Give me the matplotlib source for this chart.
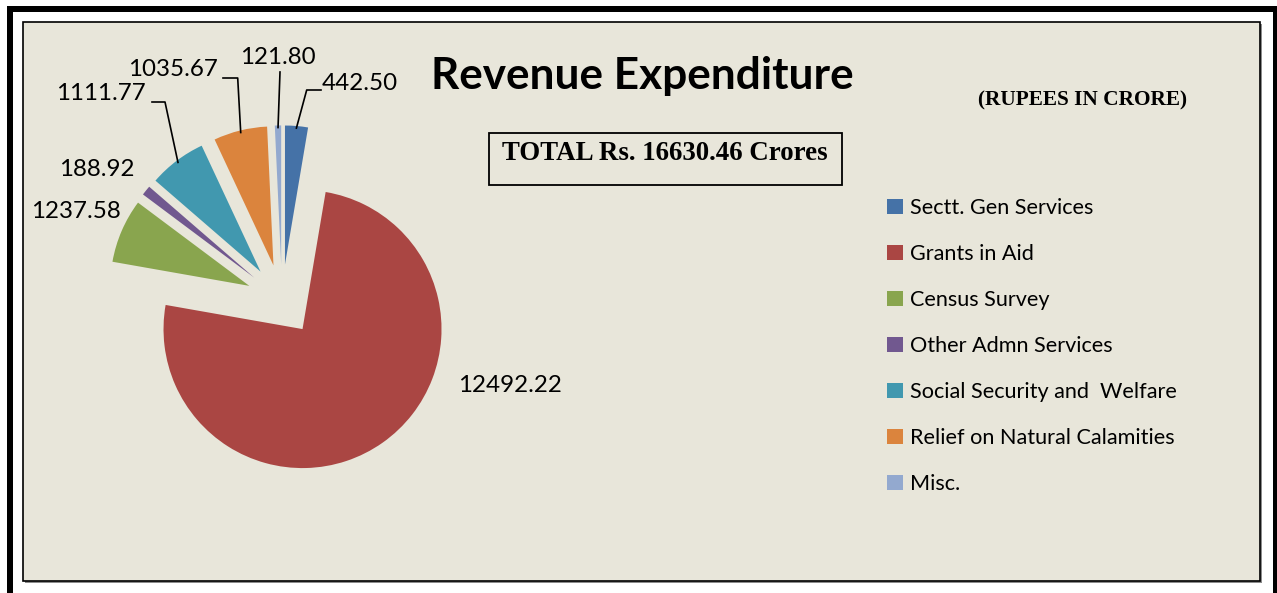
import math

import matplotlib.pyplot as plt
from matplotlib.patches import Rectangle

# Revenue expenditure by head (Rupees in crore)
categories = [
    "Sectt. Gen Services",
    "Grants in Aid",
    "Census Survey",
    "Other Admn Services",
    "Social Security and  Welfare",
    "Relief on Natural Calamities",
    "Misc.",
]
values = [442.50, 12492.22, 1237.58, 188.92, 1111.77, 1035.67, 121.80]
value_labels = ["442.50", "12492.22", "1237.58", "188.92", "1111.77", "1035.67", "121.80"]
colors = ["#4572A7", "#AA4643", "#89A54E", "#71588F", "#4198AF", "#DB843D", "#93A9CF"]

W, H = 1277, 593
BG = "#E8E6DA"
LABEL_FONT = ["Lato", "DejaVu Sans"]
SERIF = ["Liberation Serif", "DejaVu Serif"]

# Pie geometry in pixels (top-left origin)
PIE_CX, PIE_CY, PIE_R = 282, 300, 139
EXPLODE = 0.256


def fx(x):
    return x / W


def fy(y):
    return 1 - y / H


fig = plt.figure(figsize=(W / 100, H / 100), dpi=100)
fig.patch.set_facecolor("white")

# Outer heavy frame (open at the bottom) and inner plot-area box with shadow
for x0, y0, x1, y1 in [(7, 6, 1277, 12), (7, 6, 13, 593), (1273, 6, 1277, 593)]:
    fig.add_artist(Rectangle((fx(x0), fy(y1)), fx(x1 - x0), (y1 - y0) / H,
                             transform=fig.transFigure, facecolor="black", edgecolor="none",
                             zorder=-10))
fig.add_artist(Rectangle((fx(25), fy(583)), fx(1237), 559 / H, transform=fig.transFigure,
                         facecolor="#8c8c8c", edgecolor="none", zorder=-9))
fig.add_artist(Rectangle((fx(23), fy(581)), fx(1237), 559 / H, transform=fig.transFigure,
                         facecolor=BG, edgecolor="black", linewidth=1.2, zorder=-8))

# Axes in units of the pie radius, centred on the pie
ax = fig.add_axes([0, 0, 1, 1])
ax.patch.set_alpha(0)

wedges, _ = ax.pie(
    values,
    colors=colors,
    startangle=90,
    counterclock=False,
    explode=[EXPLODE] * len(values),
    radius=1.0,
    center=(0, 0),
    frame=True,
    wedgeprops={"linewidth": 0},
)
ax.set_xlim(-PIE_CX / PIE_R, (W - PIE_CX) / PIE_R)
ax.set_ylim(-(H - PIE_CY) / PIE_R, PIE_CY / PIE_R)
ax.set_aspect("equal")
ax.axis("off")


def to_ax(x, y):
    return (x - PIE_CX) / PIE_R, (PIE_CY - y) / PIE_R


def edge_point(w, r=0.985):
    mid = math.radians((w.theta1 + w.theta2) / 2)
    cx, cy = w.center
    return cx + r * w.r * math.cos(mid), cy + r * w.r * math.sin(mid)


# Label layout: text position, alignment, and leader-line bends (pixels)
label_layout = [
    ((322, 84), "left", [(306.7, 90), (321, 90)]),
    ((510, 386), "center", None),
    ((121, 212), "right", None),
    ((135, 169.5), "right", None),
    ((146, 93.5), "right", [(165, 102), (152, 102)]),
    ((218, 70), "right", [(237.7, 78), (223, 78)]),
    ((278, 57.5), "center", [(280, 72)]),
]

for w, text, (pos, ha, bends) in zip(wedges, value_labels, label_layout):
    tx, ty = to_ax(*pos)
    ax.text(tx, ty, text, ha=ha, va="center", fontsize=17.4, family=LABEL_FONT, color="black")
    if bends:
        sx, sy = edge_point(w)
        pts = [(sx, sy)] + [to_ax(*p) for p in bends]
        ax.plot([p[0] for p in pts], [p[1] for p in pts], color="black", linewidth=1.2)

# Titles
fig.text(fx(642), fy(76), "Revenue Expenditure", ha="center", va="center",
         fontsize=31.8, fontweight="bold", family=LABEL_FONT)
fig.text(fx(1083), fy(100), "(RUPEES IN CRORE)", ha="center", va="center",
         fontsize=15.3, fontweight="bold", family=SERIF)
fig.add_artist(Rectangle((fx(489), fy(185)), fx(353), 52 / H, transform=fig.transFigure,
                         facecolor="none", edgecolor="black", linewidth=1.3))
fig.text(fx(665), fy(154), "TOTAL Rs. 16630.46 Crores", ha="center", va="center",
         fontsize=19.4, fontweight="bold", family=SERIF)

# Legend
fig.legend(
    wedges,
    categories,
    loc="upper left",
    bbox_to_anchor=(fx(887), fy(198)),
    frameon=False,
    prop={"family": LABEL_FONT, "size": 15.6},
    handlelength=0.72,
    handleheight=0.72,
    handletextpad=0.33,
    labelspacing=1.2,
    borderpad=0,
    borderaxespad=0,
)

fig.savefig("out.png", dpi=100, facecolor=fig.get_facecolor())
